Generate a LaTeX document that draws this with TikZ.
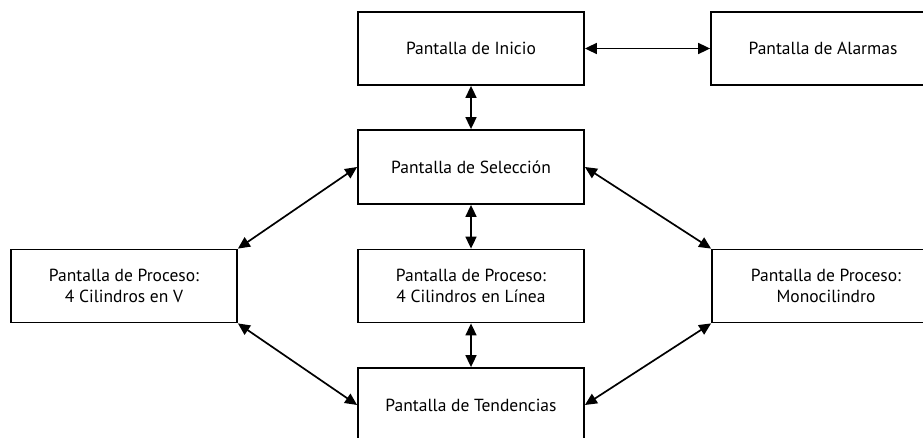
\documentclass[tikz,border=0pt]{standalone}
\usepackage{fontspec}
\setmainfont{PT Sans}
\usetikzlibrary{arrows.meta}
\begin{document}
\begin{tikzpicture}[x=1pt,y=-1pt,
  screen/.style={draw, line width=1.8pt, minimum width=226pt, minimum height=73pt, align=center, inner sep=0pt, font=\fontsize{17.5}{21}\selectfont},
  link/.style={line width=1.7pt, {Triangle[length=12pt,width=11pt]}-{Triangle[length=12pt,width=11pt]}}]
\useasboundingbox (0,0) rectangle (923,437);
\clip (0,0) rectangle (923,437);
\node[screen] (ini) at (471,48.5) {Pantalla de Inicio};
\node[screen, minimum width=224pt] (ala) at (823,48.5) {Pantalla de Alarmas};
\node[screen, minimum height=74pt] (sel) at (471,167) {Pantalla de Selección};
\node[screen] (izq) at (124,286) {Pantalla de Proceso:\\4 Cilindros en V};
\node[screen] (med) at (471,286) {Pantalla de Proceso:\\4 Cilindros en Línea};
\node[screen, minimum width=228pt] (der) at (826,286) {Pantalla de Proceso:\\Monocilindro};
\node[screen, minimum height=74pt] (ten) at (471,405) {Pantalla de Tendencias};
\draw[link] (ini.east) -- (ala.west);
\draw[link] (ini.south) -- (sel.north);
\draw[link] (sel.south) -- (med.north);
\draw[link] (med.south) -- (ten.north);
\draw[link] (izq.north east) -- (sel.west);
\draw[link] (izq.south east) -- (ten.west);
\draw[link] (der.north west) -- (sel.east);
\draw[link] (der.south west) -- (ten.east);
\end{tikzpicture}
\end{document}
